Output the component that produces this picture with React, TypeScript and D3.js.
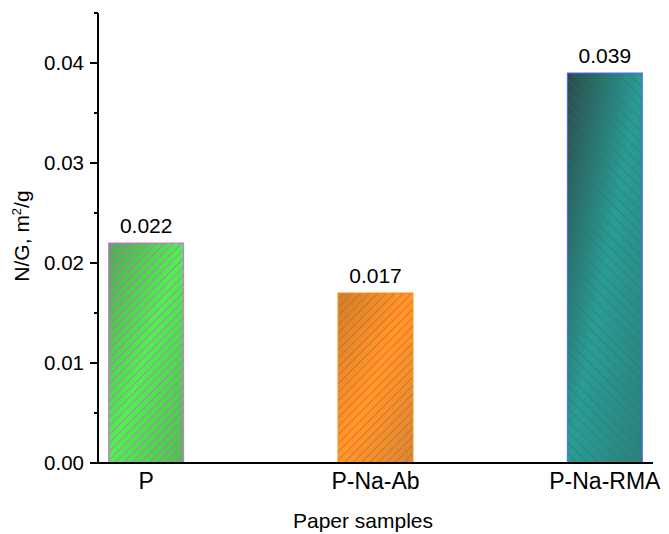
import React from "react";
import * as d3 from "d3";

const categories = ["P", "P-Na-Ab", "P-Na-RMA"];
const values = [0.022, 0.017, 0.039];
const valueLabels = ["0.022", "0.017", "0.039"];
const yMajorTicks = [0, 0.01, 0.02, 0.03, 0.04];
const yMinorTicks = [0.005, 0.015, 0.025, 0.035, 0.045];

const W = 669;
const H = 534;
const FONT = "'Liberation Sans', Arial, sans-serif";

const barStyles = [
  { stops: ["#4cae4c", "#4ef24e", "#4cc04c"], hatch: "#e44ce8", stroke: "#e060f0", dir: 45, gap: 6, hw: 1.3 },
  { stops: ["#c8822f", "#ff9a2c", "#d08a38"], hatch: "#ff4810", stroke: "#ff8c20", dir: 45, gap: 6, hw: 1.3 },
  { stops: ["#2c4a48", "#2a9c94", "#2d807a"], hatch: "#1d7a72", stroke: "#5566ff", dir: -45, gap: 8, hw: 1 },
];

export default function App() {
  const x = d3.scaleLinear().domain([0.79, 3.21]).range([98, 653]);
  const y = d3.scaleLinear().domain([0, 0.045]).range([463, 13]);
  const barW = x(1.327) - x(1);
  const fmt = d3.format(".2f");

  return (
    <svg width={W} height={H} style={{ position: "absolute", left: 0, top: 0, background: "#fff" }} fontFamily={FONT}>
      <defs>
        {barStyles.map((s, i) => (
          <React.Fragment key={i}>
            <linearGradient id={`g${i}`} x1="0" y1="0" x2="1" y2="1">
              <stop offset="0%" stopColor={s.stops[0]} />
              <stop offset="50%" stopColor={s.stops[1]} />
              <stop offset="100%" stopColor={s.stops[2]} />
            </linearGradient>
            <pattern id={`h${i}`} width={s.gap} height={s.gap} patternUnits="userSpaceOnUse" patternTransform={`rotate(${s.dir})`}>
              <line x1={0} y1={0} x2={0} y2={s.gap} stroke={s.hatch} strokeWidth={s.hw} />
            </pattern>
          </React.Fragment>
        ))}
      </defs>

      {values.map((v, i) => {
        const cx = x(i + 1);
        const s = barStyles[i];
        return (
          <g key={categories[i]}>
            <rect x={cx - barW / 2} y={y(v)} width={barW} height={y(0) - y(v)} fill={`url(#g${i})`} />
            <rect x={cx - barW / 2} y={y(v)} width={barW} height={y(0) - y(v)} fill={`url(#h${i})`} stroke={s.stroke} strokeWidth={1} />
            <text x={cx} y={y(v) - 10} textAnchor="middle" fontSize={21} fill="#000">{valueLabels[i]}</text>
          </g>
        );
      })}

      {/* axes */}
      <line x1={x.range()[0]} x2={x.range()[1]} y1={y(0)} y2={y(0)} stroke="#000" strokeWidth={2} />
      <line x1={98} x2={98} y1={y(0.045)} y2={y(0)} stroke="#000" strokeWidth={2} />
      {yMajorTicks.map((t) => (
        <g key={t}>
          <line x1={90} x2={98} y1={y(t)} y2={y(t)} stroke="#000" strokeWidth={2} />
          <text x={84} y={y(t)} dy="0.36em" textAnchor="end" fontSize={20.5} fill="#000">{fmt(t)}</text>
        </g>
      ))}
      {yMinorTicks.map((t) => (
        <line key={t} x1={94} x2={98} y1={y(t)} y2={y(t)} stroke="#000" strokeWidth={2} />
      ))}

      {categories.map((c, i) => (
        <text key={c} x={x(i + 1)} y={489} textAnchor="middle" fontSize={23} fill="#000">{c}</text>
      ))}

      <text x={363} y={528} textAnchor="middle" fontSize={21} fill="#000">Paper samples</text>
      <text transform="translate(29,236) rotate(-90)" textAnchor="middle" fontSize={21} fill="#000">
        N/G, m<tspan dy="-8" fontSize={13}>2</tspan><tspan dy="8">/g</tspan>
      </text>
    </svg>
  );
}
